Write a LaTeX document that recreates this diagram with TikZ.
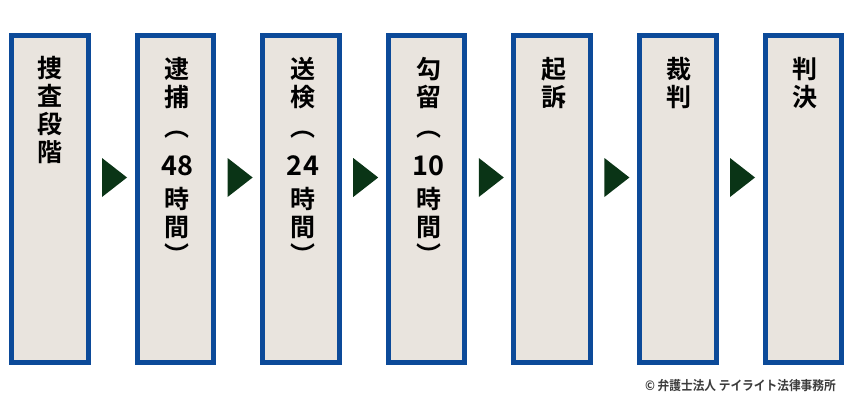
\documentclass[tikz,border=0pt]{standalone}
\usepackage{fontspec}
\newfontfamily\jpb{Noto Sans CJK JP Bold}
\newfontfamily\jpm{Noto Sans CJK JP Medium}
\definecolor{boxblue}{RGB}{12,74,153}
\definecolor{boxfill}{RGB}{233,228,222}
\definecolor{arrgreen}{RGB}{10,52,22}
\definecolor{copyg}{RGB}{60,60,60}
\newcommand{\dg}[1]{{\jpb\fontsize{27}{28}\selectfont\addfontfeatures{LetterSpace=3} #1}}
\begin{document}
\begin{tikzpicture}[x=1pt,y=-1pt,
  stagebox/.style={draw=boxblue,fill=boxfill,line width=5pt,minimum width=76.5pt,minimum height=327pt,anchor=north west,inner sep=0pt,outer sep=0pt},
  stagetext/.style={anchor=north,align=center,inner sep=0pt,font=\jpb\fontsize{25}{28}\selectfont},
  tri/.style={fill=arrgreen,draw=none}]
\useasboundingbox (0,0) rectangle (850,409);
\foreach \i in {0,...,6}{
  \node[stagebox] (b\i) at ({11.5+125.6*\i},35.5) {};
}
\foreach \i in {0,...,5}{
  \pgfmathsetmacro{\cx}{102+125.6*\i}
  \fill[arrgreen] (\cx,158) -- (\cx+25,177.5) -- (\cx,197) -- cycle;
}
\node[stagetext] (t0) at ([xshift=0pt]b0.north |- 0,56) {捜\\査\\段\\階};
\node[stagetext] (t1) at ([xshift=2pt]b1.north |- 0,57) {逮\\捕\\[2pt]︵\\[11pt]\dg{48}\\[5pt]時\\間\\︶};
\node[stagetext] (t2) at ([xshift=2pt]b2.north |- 0,57) {送\\検\\[2pt]︵\\[11pt]\dg{24}\\[5pt]時\\間\\︶};
\node[stagetext] (t3) at ([xshift=2pt]b3.north |- 0,57) {勾\\留\\[2pt]︵\\[11pt]\dg{10}\\[5pt]時\\間\\︶};
\node[stagetext] (t4) at ([xshift=2pt]b4.north |- 0,57) {起\\訴};
\node[stagetext] (t5) at ([xshift=1pt]b5.north |- 0,57) {裁\\判};
\node[stagetext] (t6) at ([xshift=2pt]b6.north |- 0,57) {判\\決};
\node[anchor=east,inner sep=0pt,text=copyg,font=\jpb\fontsize{13}{14}\selectfont] (copy) at (836,386) {\scalebox{0.9}[1]{© 弁護士法人 テイライト法律事務所}};
\end{tikzpicture}
\end{document}
